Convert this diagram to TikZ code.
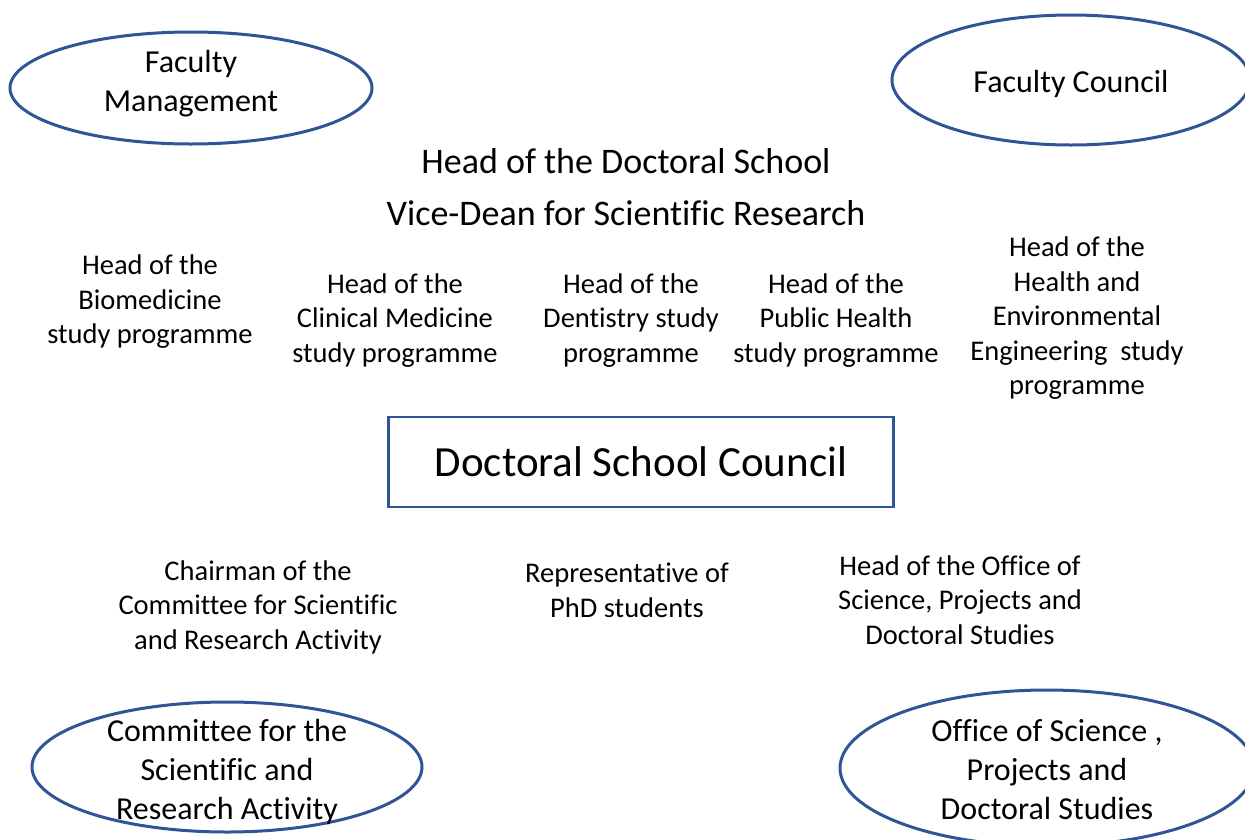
\documentclass[tikz,border=0pt]{standalone}
\usepackage{fontspec}
\setmainfont[Ligatures={NoCommon,NoContextual}]{Carlito}
\usetikzlibrary{shapes.geometric}

\definecolor{unitblue}{HTML}{2F5597}

\tikzset{
  unit/.style={draw=unitblue, line width=3pt, ellipse, inner sep=0pt},
  unittext/.style={align=center, inner sep=0pt, font=\fontsize{32}{39}\selectfont},
  role/.style={align=center, inner sep=0pt, font=\fontsize{28.5}{34.5}\selectfont},
  head/.style={align=center, inner sep=0pt, font=\fontsize{36}{52}\selectfont},
  council/.style={draw=unitblue, line width=2.5pt, inner sep=0pt,
    minimum width=505pt, minimum height=90pt, font=\fontsize{43}{50}\selectfont}
}

\begin{document}
\begin{tikzpicture}[x=1pt, y=-1pt]
\useasboundingbox (0,0) rectangle (1245,839);
\clip (0,0) rectangle (1245,839);

% Faculty bodies
\node [unit, minimum width=362pt, minimum height=112pt] (mgmt) at (191,88) {};
\node [unittext] (mgmt-text) at (191,84) {Faculty\\Management};
\node [unit, minimum width=358pt, minimum height=130pt] (fcouncil) at (1071,80) {};
\node [unittext] (fcouncil-text) at (1071,84) {Faculty Council};

% Head and vice-dean
\node [head] (head) at (626,187) {Head of the Doctoral School\\Vice-Dean for Scientific Research};

% Heads of study programmes
\node [role] (biomed) at (150,302) {Head of the\\Biomedicine\\study programme};
\node [role] (clinmed) at (395,320.5) {Head of the\\Clinical Medicine\\study programme};
\node [role] (dent) at (631,320.5) {Head of the\\Dentistry study\\programme};
\node [role] (pubhealth) at (836,320.5) {Head of the\\Public Health\\study programme};
\node [role] (envhealth) at (1077,318.5) {Head of the\\Health and\\Environmental\\Engineering\ \ study\\programme};

% Council
\node [council] (dscouncil) at (641,462) {Doctoral School Council};

% Other members
\node [role] (chair) at (258,607) {Chairman of the\\Committee for Scientific\\and Research Activity};
\node [role] (phd) at (627,590.5) {Representative of\\PhD students};
\node [role] (officehead) at (960,600) {Head of the Office of\\Science, Projects and\\Doctoral Studies};

% Committee and office
\node [unit, minimum width=390pt, minimum height=130pt] (committee) at (227,767) {};
\node [unittext] (committee-text) at (227,772) {Committee for the\\Scientific and\\Research Activity};
\node [unit, minimum width=414pt, minimum height=156pt] (office) at (1047,768) {};
\node [unittext] (office-text) at (1047,770) {Office of Science ,\\Projects and\\Doctoral Studies};

\end{tikzpicture}
\end{document}
